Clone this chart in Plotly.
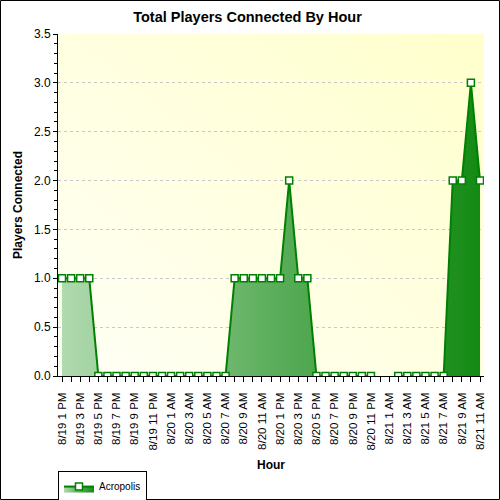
import base64
import plotly.graph_objects as go

# hourly buckets, 8/19 1 PM .. 8/21 11 AM
hours = [
    "8/19 1 PM", "8/19 2 PM", "8/19 3 PM", "8/19 4 PM", "8/19 5 PM", "8/19 6 PM",
    "8/19 7 PM", "8/19 8 PM", "8/19 9 PM", "8/19 10 PM", "8/19 11 PM", "8/20 12 AM",
    "8/20 1 AM", "8/20 2 AM", "8/20 3 AM", "8/20 4 AM", "8/20 5 AM", "8/20 6 AM",
    "8/20 7 AM", "8/20 8 AM", "8/20 9 AM", "8/20 10 AM", "8/20 11 AM", "8/20 12 PM",
    "8/20 1 PM", "8/20 2 PM", "8/20 3 PM", "8/20 4 PM", "8/20 5 PM", "8/20 6 PM",
    "8/20 7 PM", "8/20 8 PM", "8/20 9 PM", "8/20 10 PM", "8/20 11 PM", "8/21 12 AM",
    "8/21 1 AM", "8/21 2 AM", "8/21 3 AM", "8/21 4 AM", "8/21 5 AM", "8/21 6 AM",
    "8/21 7 AM", "8/21 8 AM", "8/21 9 AM", "8/21 10 AM", "8/21 11 AM",
]
players = [
    1, 1, 1, 1, 0, 0, 0, 0, 0, 0, 0, 0,
    0, 0, 0, 0, 0, 0, 0, 1, 1, 1, 1, 1,
    1, 2, 1, 1, 0, 0, 0, 0, 0, 0, 0, None,
    None, 0, 0, 0, 0, 0, 0, 2, 2, 3, 2,
]
y_ticks = [0, 0.5, 1.0, 1.5, 2.0, 2.5, 3.0, 3.5]

green = "#008000"
font = "Liberation Sans, Arial, sans-serif"
n = len(hours)
xr = [-0.44, n - 1 + 0.44]

# pale yellow gradient for the plot background
svg = ('<svg xmlns="http://www.w3.org/2000/svg" width="100" height="100" preserveAspectRatio="none">'
       '<defs><linearGradient id="g" x1="0" y1="1" x2="1" y2="0">'
       '<stop offset="0" stop-color="#fffff6"/><stop offset="1" stop-color="#ffffcc"/>'
       '</linearGradient></defs><rect width="100" height="100" fill="url(#g)"/></svg>')
bg_uri = "data:image/svg+xml;base64," + base64.b64encode(svg.encode()).decode()

fig = go.Figure()

fig.add_trace(go.Scatter(
    x=hours, y=players,
    mode="lines+markers",
    name="Acropolis",
    line=dict(color=green, width=2),
    marker=dict(symbol="square", size=7, color="white", line=dict(color=green, width=1.5)),
    fill="tozeroy",
    fillgradient=dict(type="horizontal",
                      colorscale=[[0, "#b0dab0"], [0.5, "#5cae5c"], [0.85, "#2c962c"], [1, "#138a13"]]),
    connectgaps=False,
    cliponaxis=True,
))

tickvals = list(range(n))
ticktext = [h if i % 2 == 0 else "" for i, h in enumerate(hours)]

fig.update_layout(
    width=500, height=500,
    paper_bgcolor="white",
    plot_bgcolor="rgba(0,0,0,0)",
    margin=dict(l=58, r=16, t=34, b=124, autoexpand=False),
    font=dict(family=font, size=11, color="black"),
    title=dict(text="<b>Total Players Connected By Hour</b>", x=0.495, xanchor="center",
               y=0.966, yanchor="middle", font=dict(size=14.5, color="black")),
    showlegend=True,
    legend=dict(x=0, y=-0.278, xanchor="left", yanchor="top",
                bgcolor="white", bordercolor="black", borderwidth=1,
                font=dict(size=10), itemwidth=30),
    images=[dict(source=bg_uri, xref="paper", yref="paper", x=0, y=1, sizex=1, sizey=1,
                 xanchor="left", yanchor="top", sizing="stretch", layer="below")],
    xaxis=dict(
        type="category", categoryorder="array", categoryarray=hours,
        range=xr, tickmode="array", tickvals=tickvals, ticktext=ticktext,
        tickangle=-90, ticks="outside", ticklen=5, tickcolor="black",
        ticklabelstandoff=6,
        tickfont=dict(size=11.5), automargin=False,
        showgrid=False, showline=True, linecolor="black", linewidth=1,
        zeroline=False,
        title=dict(text="<b>Hour</b>", font=dict(size=12), standoff=11),
    ),
    xaxis2=dict(
        overlaying="x", side="top", anchor="y", range=xr, automargin=False,
        tickmode="array", tickvals=list(range(0, n, 2)), showticklabels=False,
        ticks="inside", ticklen=4, tickcolor="black",
        showgrid=True, gridcolor="#c8c8c8", griddash="dot", gridwidth=1,
        showline=True, linecolor="black", zeroline=False,
    ),
    yaxis=dict(
        range=[0, 3.5], tickvals=y_ticks, tickformat=".1f", automargin=False,
        ticks="outside", ticklen=4, tickcolor="black",
        minor=dict(dtick=0.1, ticks="outside", ticklen=3, tickcolor="black", showgrid=False),
        showgrid=True, gridcolor="#c8c8c8", griddash="dot", gridwidth=1,
        showline=True, linecolor="black", linewidth=1, zeroline=False,
        tickfont=dict(size=12),
        title=dict(text="<b>Players Connected</b>", font=dict(size=12), standoff=8),
    ),
    yaxis2=dict(
        overlaying="y", side="right", anchor="x", range=[0, 3.5], automargin=False,
        tickmode="linear", tick0=0, dtick=0.1, showticklabels=False,
        ticks="inside", ticklen=4, tickcolor="black",
        showgrid=False, showline=True, linecolor="black", zeroline=False,
    ),
)

# outer frame around the whole image
fig.add_shape(type="rect", xref="paper", yref="paper",
              x0=(0.5 - 58) / 426, x1=(499.5 - 58) / 426,
              y0=(376 - 499.5) / 342, y1=(376 - 0.5) / 342,
              line=dict(color="black", width=1), layer="above")

# the page's default body margin would push the chart 8px off the corner
fig.write_html("out.html", config={"displayModeBar": False},
               post_script="document.body.style.margin = '0';")
